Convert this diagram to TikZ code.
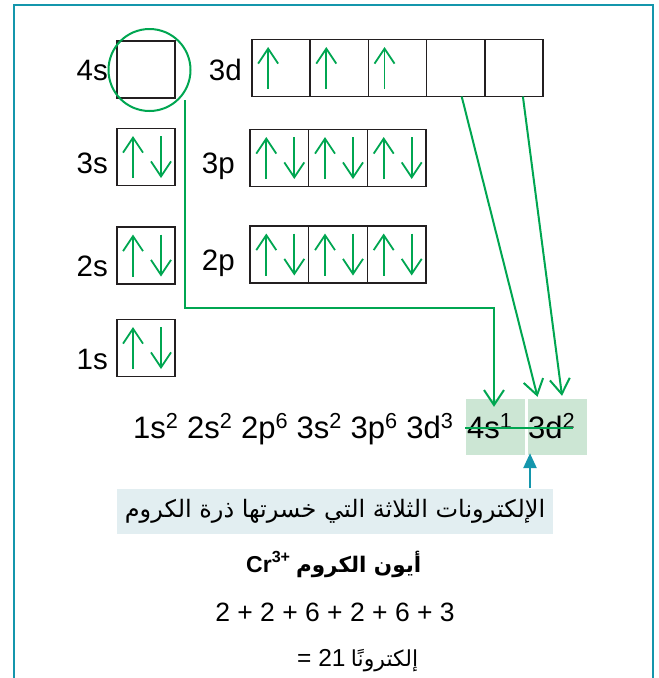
\documentclass[tikz,border=0pt]{standalone}
\usepackage{fontspec}
\setmainfont{Liberation Sans}
\newfontfamily\arabicfont[Script=Arabic]{DejaVu Sans}
\usetikzlibrary{arrows.meta}
\TeXXeTstate=1

\definecolor{elgreen}{RGB}{0,166,81}
\definecolor{boxgray}{RGB}{35,31,32}
\definecolor{shadegreen}{RGB}{204,230,212}
\definecolor{framecyan}{RGB}{20,150,172}
\definecolor{labelbg}{RGB}{226,238,241}

\tikzset{
  orb/.style={draw=boxgray, line width=1.6pt, minimum width=58pt, minimum height=57pt, inner sep=0pt, outer sep=0pt},
  lbl/.style={font=\fontsize{29.5}{32}\selectfont, anchor=base east, inner sep=0pt},
  cfg/.style={font=\fontsize{31}{33}\selectfont, anchor=base west, inner sep=0pt},
  spin/.style={elgreen, line width=1.8pt, -{Straight Barb[length=15pt,width=20pt]}},
  link/.style={elgreen, line width=2pt, -{Straight Barb[length=15pt,width=20pt]}},
  shade/.style={fill=shadegreen, minimum width=59pt, minimum height=56pt, inner sep=0pt},
  pointer/.style={framecyan, line width=2.5pt, -{Triangle[length=15pt,width=13pt]}},
  note/.style={inner sep=0pt}
}

\begin{document}
\begin{tikzpicture}[x=1pt, y=-1pt]
  \useasboundingbox (0,0) rectangle (659,678);
  % frame
  \draw[framecyan, line width=2pt] (14,678) -- (14,5) -- (653,5) -- (653,678);

  % s orbitals
  \node[orb] (s4) at (146,69.5) {};
  \node[orb] (s3) at (146,157) {};
  \node[orb] (s2) at (146,255.5) {};
  \node[orb] (s1) at (146,348) {};
  % 3d, 3p, 2p orbitals
  \foreach \i in {1,...,5}
    \node[orb, minimum width=58.2pt] (d\i) at ({222.9+58.2*\i},68) {};
  \foreach \i in {1,2,3} {
    \node[orb, minimum width=58.7pt] (pa\i) at ({220.6+58.7*\i},158) {};
    \node[orb, minimum width=58.7pt] (pb\i) at ({220.6+58.7*\i},254.5) {};
  }

  % labels
  \node[lbl] (l4s) at (108,80) {4s};
  \node[lbl] (l3d) at (242,80) {3d};
  \node[lbl] (l3s) at (108,173) {3s};
  \node[lbl] (l3p) at (235,173) {3p};
  \node[lbl] (l2s) at (108,276) {2s};
  \node[lbl] (l2p) at (235,270) {2p};
  \node[lbl] (l1s) at (108,369) {1s};

  % electrons
  \foreach \b in {s3,s2,s1,pa1,pa2,pa3,pb1,pb2,pb3} {
    \draw[spin] ([shift={(-13,21)}]\b.center) -- ([shift={(-13,-21)}]\b.center);
    \draw[spin] ([shift={(15,-21)}]\b.center) -- ([shift={(15,21)}]\b.center);
  }
  \foreach \b in {d1,d2,d3}
    \draw[spin] ([shift={(-13,21)}]\b.center) -- ([shift={(-13,-21)}]\b.center);

  % empty 4s ringed
  \node[draw=elgreen, line width=2pt, circle, minimum size=82pt, inner sep=0pt] (ring) at (149.5,70) {};

  % configuration
  \node[shade] (sh4s) at (495.5,427) {};
  \node[shade] (sh3d) at (557.5,427) {};
  \node[cfg] (cfg) at (133,438) {1s\textsuperscript{2} 2s\textsuperscript{2} 2p\textsuperscript{6} 3s\textsuperscript{2} 3p\textsuperscript{6} 3d\textsuperscript{3}};
  \node[cfg] (c4s) at (467,438) {4s\textsuperscript{1}};
  \node[cfg] (c3d) at (528,438) {3d\textsuperscript{2}};
  \draw[elgreen, line width=2pt] (465,428) -- (573,428);

  % lost electrons
  \coordinate (drop) at (185,100);
  \coordinate (turn) at (494,308);
  \coordinate (tip4s) at ([yshift=-8pt]sh4s.north);
  \draw[link] (drop) |- (turn) -- (turn |- tip4s);
  \draw[link] ([xshift=6pt]d4.south) -- ([xshift=-20pt,yshift=2pt]sh3d.north);
  \draw[link] ([xshift=9pt]d5.south) -- ([xshift=4.5pt,yshift=3pt]sh3d.north);

  % notes
  \node[fill=labelbg, minimum width=436pt, minimum height=45pt, inner sep=0pt,
        font={\fontsize{24}{28}\arabicfont}] (lost) at (335,511)
        {\beginR الإلكترونات الثلاثة التي خسرتها ذرة الكروم\endR};
  \draw[pointer] ([xshift=195pt]lost.north) -- ([xshift=-27.5pt,yshift=2pt]sh3d.south);
  \node[note, anchor=base west, font=\fontsize{23}{26}\bfseries] (cr) at (246,572)
        {Cr\textsuperscript{3+}};
  \node[note, anchor=base west, font={\fontsize{21.5}{26}\bfseries\arabicfont}] (ion)
        at ([xshift=5pt]cr.base east) {\beginR أيون الكروم\endR};
  \node[font=\fontsize{26.5}{30}\selectfont] (sum) at (335,612) {2 + 2 + 6 + 2 + 6 + 3};
  \node[note, anchor=base west, font=\fontsize{24.5}{28}\selectfont] (eq) at (297,666) {= 21};
  \node[note, anchor=base west, font={\fontsize{22}{26}\arabicfont}] (total)
        at ([xshift=5pt]eq.base east) {\beginR إلكترونًا\endR};
\end{tikzpicture}
\end{document}
